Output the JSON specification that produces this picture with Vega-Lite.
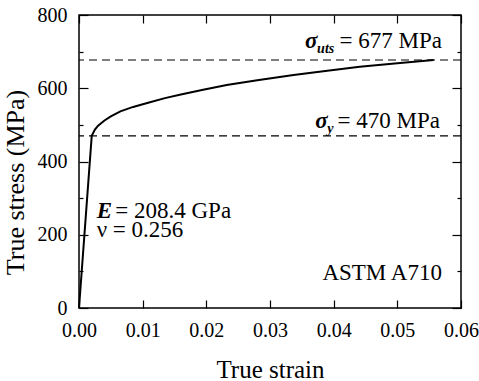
{
  "$schema": "https://vega.github.io/schema/vega-lite/v6.json",
  "width": 382,
  "height": 293,
  "autosize": {"type": "none"},
  "padding": {"left": 79, "top": 15, "right": 18, "bottom": 73},
  "background": "white",
  "config": {
    "view": {"stroke": "black", "strokeWidth": 1.5},
    "axis": {
      "domain": false,
      "grid": false,
      "labelFont": "Liberation Serif",
      "labelFontSize": 20,
      "labelColor": "black",
      "labelFlush": false,
      "titleFont": "Liberation Serif",
      "titleFontSize": 25,
      "titleFontWeight": "normal",
      "titleColor": "black",
      "tickColor": "black",
      "tickWidth": 1.2
    },
    "text": {"font": "Liberation Serif", "fontSize": 23, "color": "black"}
  },
  "datasets": {
    "curve": [
      {"strain": 0.0, "stress": 0},
      {"strain": 0.002, "stress": 470},
      {"strain": 0.0025, "stress": 487},
      {"strain": 0.003, "stress": 498},
      {"strain": 0.004, "stress": 512},
      {"strain": 0.005, "stress": 523},
      {"strain": 0.0065, "stress": 537},
      {"strain": 0.0085, "stress": 549},
      {"strain": 0.011, "stress": 561},
      {"strain": 0.0135, "stress": 573},
      {"strain": 0.016, "stress": 583},
      {"strain": 0.0195, "stress": 596},
      {"strain": 0.0232, "stress": 609},
      {"strain": 0.028, "stress": 622},
      {"strain": 0.0337, "stress": 636},
      {"strain": 0.039, "stress": 648},
      {"strain": 0.0441, "stress": 659},
      {"strain": 0.05, "stress": 668},
      {"strain": 0.0557, "stress": 677}
    ],
    "levels": [{"stress": 677}, {"stress": 470}]
  },
  "layer": [
    {
      "data": {"name": "curve"},
      "mark": {"type": "line", "color": "black", "strokeWidth": 2},
      "encoding": {
        "x": {
          "field": "strain", "type": "quantitative",
          "scale": {"domain": [0, 0.06], "nice": false, "zero": false},
          "axis": {
            "title": "True strain",
            "orient": "bottom",
            "values": [0, 0.01, 0.02, 0.03, 0.04, 0.05, 0.06],
            "format": ".2f",
            "labelFont": "Liberation Serif",
            "labelFontSize": 20,
            "labelFlush": false,
            "tickSize": -8,
            "labelPadding": 20,
            "titlePadding": 17
          }
        },
        "y": {
          "field": "stress", "type": "quantitative",
          "scale": {"domain": [0, 800], "nice": false},
          "axis": {
            "title": "True stress (MPa)",
            "orient": "left",
            "values": [0, 100, 200, 300, 400, 500, 600, 700, 800],
            "labelExpr": "datum.value % 200 === 0 ? datum.label : ''",
            "labelFont": "Liberation Serif",
            "labelFontSize": 20,
            "tickSize": {"condition": {"test": "datum.value % 200 === 0", "value": -9}, "value": -4},
            "labelPadding": 21,
            "titleFontSize": 26,
            "titleAlign": "center",
            "titleY": 167,
            "titlePadding": 9
          }
        }
      }
    },
    {
      "data": {"name": "levels"},
      "mark": {"type": "rule", "color": "black", "strokeWidth": 1.1, "strokeDash": [8, 5]},
      "encoding": {
        "y": {
          "field": "stress", "type": "quantitative",
          "axis": {
            "orient": "right",
            "title": null,
            "labels": false,
            "values": [0, 100, 200, 300, 400, 500, 600, 700, 800],
            "tickSize": {"condition": {"test": "datum.value % 200 === 0", "value": -9}, "value": -4}
          }
        }
      }
    },
    {
      "data": {"values": [
        {"strain": 0.0355, "stress": 710, "label": "σ"},
        {"strain": 0.0371, "stress": 491.5, "label": "σ"},
        {"strain": 0.00278, "stress": 246, "label": "E"}
      ]},
      "mark": {"type": "text", "align": "left", "baseline": "alphabetic", "fontStyle": "italic", "fontWeight": "bold"},
      "encoding": {
        "x": {
          "field": "strain", "type": "quantitative",
          "axis": {
            "orient": "top",
            "title": null,
            "labels": false,
            "values": [0, 0.01, 0.02, 0.03, 0.04, 0.05, 0.06],
            "tickSize": -8
          }
        },
        "y": {"field": "stress", "type": "quantitative", "axis": null},
        "text": {"field": "label"}
      }
    },
    {
      "data": {"values": [
        {"strain": 0.0374, "stress": 697, "label": "uts"},
        {"strain": 0.039, "stress": 479, "label": "y"}
      ]},
      "mark": {"type": "text", "align": "left", "baseline": "alphabetic", "fontStyle": "italic", "fontWeight": "bold", "fontSize": 14},
      "encoding": {
        "x": {"field": "strain", "type": "quantitative", "axis": null},
        "y": {"field": "stress", "type": "quantitative", "axis": null},
        "text": {"field": "label"}
      }
    },
    {
      "data": {"values": [
        {"strain": 0.057, "stress": 710, "label": "= 677 MPa"},
        {"strain": 0.0567, "stress": 491.5, "label": "= 470 MPa"},
        {"strain": 0.057, "stress": 76.5, "label": "ASTM A710"}
      ]},
      "mark": {"type": "text", "align": "right", "baseline": "alphabetic"},
      "encoding": {
        "x": {"field": "strain", "type": "quantitative", "axis": null},
        "y": {"field": "stress", "type": "quantitative", "axis": null},
        "text": {"field": "label"}
      }
    },
    {
      "data": {"values": [
        {"strain": 0.0057, "stress": 246, "label": "= 208.4 GPa"},
        {"strain": 0.00278, "stress": 195, "label": "ν = 0.256"}
      ]},
      "mark": {"type": "text", "align": "left", "baseline": "alphabetic"},
      "encoding": {
        "x": {"field": "strain", "type": "quantitative", "axis": null},
        "y": {"field": "stress", "type": "quantitative", "axis": null},
        "text": {"field": "label"}
      }
    }
  ],
  "resolve": {"axis": {"x": "independent", "y": "independent"}}
}
